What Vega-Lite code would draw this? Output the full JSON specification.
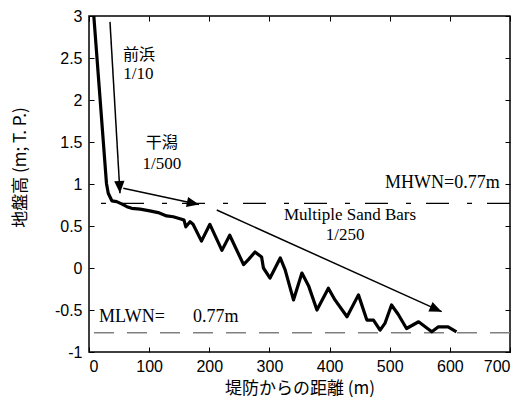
{
  "$schema": "https://vega.github.io/schema/vega-lite/v6.json",
  "width": 421,
  "height": 336,
  "autosize": {"type": "none"},
  "padding": {"left": 89, "top": 16, "right": 22, "bottom": 51},
  "background": "white",
  "config": {
    "view": {"stroke": "black", "strokeWidth": 1.5},
    "axis": {
      "domain": false,
      "grid": false,
      "ticks": true,
      "tickColor": "black",
      "tickSize": -5,
      "tickWidth": 1,
      "labelFont": "Liberation Sans",
      "labelFontSize": 16,
      "labelColor": "black",
      "titleFont": "Noto Sans CJK JP",
      "titleFontSize": 17,
      "titleFontWeight": "normal",
      "titleColor": "black"
    }
  },
  "datasets": {
    "profile": [
      {"x": 8, "z": 3.0}, {"x": 29, "z": 1.01}, {"x": 32, "z": 0.89}, {"x": 38, "z": 0.8},
      {"x": 46, "z": 0.79}, {"x": 55, "z": 0.76}, {"x": 63, "z": 0.73}, {"x": 71, "z": 0.71},
      {"x": 85, "z": 0.7}, {"x": 101, "z": 0.68}, {"x": 115, "z": 0.66}, {"x": 129, "z": 0.62},
      {"x": 140, "z": 0.61}, {"x": 154, "z": 0.58}, {"x": 158, "z": 0.57}, {"x": 161, "z": 0.49},
      {"x": 168, "z": 0.55}, {"x": 173, "z": 0.52}, {"x": 187, "z": 0.32}, {"x": 201, "z": 0.52},
      {"x": 221, "z": 0.21}, {"x": 234, "z": 0.39}, {"x": 257, "z": 0.04}, {"x": 265, "z": 0.1},
      {"x": 276, "z": 0.19}, {"x": 287, "z": 0.13}, {"x": 290, "z": 0.0}, {"x": 301, "z": -0.12},
      {"x": 318, "z": 0.12}, {"x": 326, "z": -0.02}, {"x": 340, "z": -0.38}, {"x": 354, "z": -0.06},
      {"x": 365, "z": -0.21}, {"x": 379, "z": -0.5}, {"x": 398, "z": -0.24}, {"x": 409, "z": -0.38},
      {"x": 429, "z": -0.58}, {"x": 448, "z": -0.32}, {"x": 462, "z": -0.62}, {"x": 473, "z": -0.62},
      {"x": 484, "z": -0.74}, {"x": 492, "z": -0.66}, {"x": 503, "z": -0.44}, {"x": 514, "z": -0.55},
      {"x": 528, "z": -0.72}, {"x": 548, "z": -0.64}, {"x": 570, "z": -0.76}, {"x": 581, "z": -0.7},
      {"x": 597, "z": -0.7}, {"x": 611, "z": -0.76}
    ],
    "levels": [
      {"name": "MHWN", "z": 0.77},
      {"name": "MLWN", "z": -0.77}
    ],
    "arrows": [
      {"id": "a1", "x1": 34.9, "y1": 2.93, "x2": 51.5, "y2": 0.89},
      {"id": "a2", "x1": 57.0, "y1": 0.95, "x2": 182.9, "y2": 0.756},
      {"id": "a3", "x1": 212.4, "y1": 0.69, "x2": 586.4, "y2": -0.52}
    ],
    "labels": [
      {"kind": "jp", "text": "前浜", "x": 83, "y": 2.54, "align": "c"},
      {"kind": "en", "text": "1/10", "x": 82, "y": 2.31, "align": "c"},
      {"kind": "jp", "text": "干潟", "x": 121, "y": 1.49, "align": "c"},
      {"kind": "en", "text": "1/500", "x": 121, "y": 1.24, "align": "c"},
      {"kind": "en", "text": "Multiple Sand Bars", "x": 434, "y": 0.63, "align": "c"},
      {"kind": "en", "text": "1/250", "x": 426, "y": 0.39, "align": "c"},
      {"kind": "en", "text": "MHWN=0.77m", "x": 683, "y": 1.01, "align": "r"},
      {"kind": "en", "text": "MLWN=", "x": 16.6, "y": -0.58, "align": "l"},
      {"kind": "en", "text": "0.77m", "x": 173, "y": -0.58, "align": "l"}
    ]
  },
  "resolve": {"axis": {"x": "independent", "y": "independent"}},
  "layer": [
    {
      "data": {"name": "levels"},
      "transform": [{"filter": "datum.name == 'MHWN'"}],
      "mark": {"type": "rule", "color": "black", "strokeWidth": 1.2, "strokeDash": [23, 15, 5, 18]},
      "encoding": {
        "y": {"field": "z", "type": "quantitative", "scale": {"domain": [-1, 3], "nice": false, "zero": false}, "axis": null}
      }
    },
    {
      "data": {"name": "levels"},
      "transform": [{"filter": "datum.name == 'MLWN'"}],
      "mark": {"type": "rule", "color": "#808080", "strokeWidth": 1.6, "strokeDash": [20, 13]},
      "encoding": {
        "y": {"field": "z", "type": "quantitative", "scale": {"domain": [-1, 3], "nice": false, "zero": false}, "axis": null}
      }
    },
    {
      "data": {"name": "profile"},
      "mark": {"type": "line", "color": "black", "strokeWidth": 3.2, "strokeJoin": "round"},
      "encoding": {
        "x": {
          "field": "x", "type": "quantitative",
          "scale": {"domain": [0, 700], "nice": false, "zero": false},
          "axis": {
            "orient": "bottom",
            "values": [0, 100, 200, 300, 400, 500, 600, 700],
            "labelPadding": 11,
            "title": "堤防からの距離 (m)",
            "titleBaseline": "middle",
            "titleY": 36
          }
        },
        "y": {
          "field": "z", "type": "quantitative",
          "scale": {"domain": [-1, 3], "nice": false, "zero": false},
          "axis": {
            "orient": "left",
            "values": [-1, -0.5, 0, 0.5, 1, 1.5, 2, 2.5, 3],
            "labelExpr": "'' + datum.value",
            "labelPadding": 12,
            "title": "地盤高 (m; T. P.)",
            "titleBaseline": "middle",
            "titleX": -69,
            "titleY": 151
          }
        }
      }
    },
    {
      "data": {"name": "arrows"},
      "mark": {"type": "rule", "color": "black", "strokeWidth": 1.5},
      "encoding": {
        "x": {
          "field": "x1", "type": "quantitative",
          "scale": {"domain": [0, 700], "nice": false, "zero": false},
          "axis": {"orient": "top", "values": [0, 100, 200, 300, 400, 500, 600, 700], "labels": false, "title": null}
        },
        "y": {
          "field": "y1", "type": "quantitative",
          "scale": {"domain": [-1, 3], "nice": false, "zero": false},
          "axis": {"orient": "right", "values": [-1, -0.5, 0, 0.5, 1, 1.5, 2, 2.5, 3], "labels": false, "title": null}
        },
        "x2": {"field": "x2"},
        "y2": {"field": "y2"}
      }
    },
    {
      "data": {"name": "arrows"},
      "transform": [{"filter": "datum.id == 'a1'"}],
      "mark": {"type": "point", "shape": "M0,0L-0.42,1L0.42,1Z", "filled": true, "color": "black", "opacity": 1, "size": 600, "angle": 177},
      "encoding": {
        "x": {"field": "x2", "type": "quantitative", "scale": {"domain": [0, 700], "nice": false, "zero": false}, "axis": null},
        "y": {"field": "y2", "type": "quantitative", "scale": {"domain": [-1, 3], "nice": false, "zero": false}, "axis": null}
      }
    },
    {
      "data": {"name": "arrows"},
      "transform": [{"filter": "datum.id == 'a2'"}],
      "mark": {"type": "point", "shape": "M0,0L-0.42,1L0.42,1Z", "filled": true, "color": "black", "opacity": 1, "size": 600, "angle": 102},
      "encoding": {
        "x": {"field": "x2", "type": "quantitative", "scale": {"domain": [0, 700], "nice": false, "zero": false}, "axis": null},
        "y": {"field": "y2", "type": "quantitative", "scale": {"domain": [-1, 3], "nice": false, "zero": false}, "axis": null}
      }
    },
    {
      "data": {"name": "arrows"},
      "transform": [{"filter": "datum.id == 'a3'"}],
      "mark": {"type": "point", "shape": "M0,0L-0.42,1L0.42,1Z", "filled": true, "color": "black", "opacity": 1, "size": 600, "angle": 114},
      "encoding": {
        "x": {"field": "x2", "type": "quantitative", "scale": {"domain": [0, 700], "nice": false, "zero": false}, "axis": null},
        "y": {"field": "y2", "type": "quantitative", "scale": {"domain": [-1, 3], "nice": false, "zero": false}, "axis": null}
      }
    },
    {
      "data": {"name": "labels"},
      "transform": [{"filter": "datum.kind == 'jp'"}],
      "mark": {"type": "text", "font": "Noto Sans CJK JP", "fontSize": 16, "color": "black", "align": "center", "baseline": "middle"},
      "encoding": {
        "x": {"field": "x", "type": "quantitative", "scale": {"domain": [0, 700], "nice": false, "zero": false}, "axis": null},
        "y": {"field": "y", "type": "quantitative", "scale": {"domain": [-1, 3], "nice": false, "zero": false}, "axis": null},
        "text": {"field": "text"}
      }
    },
    {
      "data": {"name": "labels"},
      "transform": [{"filter": "datum.kind == 'en' && datum.align == 'c'"}],
      "mark": {"type": "text", "font": "Liberation Serif", "fontSize": 17, "color": "black", "align": "center", "baseline": "middle"},
      "encoding": {
        "x": {"field": "x", "type": "quantitative", "scale": {"domain": [0, 700], "nice": false, "zero": false}, "axis": null},
        "y": {"field": "y", "type": "quantitative", "scale": {"domain": [-1, 3], "nice": false, "zero": false}, "axis": null},
        "text": {"field": "text"}
      }
    },
    {
      "data": {"name": "labels"},
      "transform": [{"filter": "datum.kind == 'en' && datum.align == 'r'"}],
      "mark": {"type": "text", "font": "Liberation Serif", "fontSize": 18, "color": "black", "align": "right", "baseline": "middle"},
      "encoding": {
        "x": {"field": "x", "type": "quantitative", "scale": {"domain": [0, 700], "nice": false, "zero": false}, "axis": null},
        "y": {"field": "y", "type": "quantitative", "scale": {"domain": [-1, 3], "nice": false, "zero": false}, "axis": null},
        "text": {"field": "text"}
      }
    },
    {
      "data": {"name": "labels"},
      "transform": [{"filter": "datum.kind == 'en' && datum.align == 'l'"}],
      "mark": {"type": "text", "font": "Liberation Serif", "fontSize": 18, "color": "black", "align": "left", "baseline": "middle"},
      "encoding": {
        "x": {"field": "x", "type": "quantitative", "scale": {"domain": [0, 700], "nice": false, "zero": false}, "axis": null},
        "y": {"field": "y", "type": "quantitative", "scale": {"domain": [-1, 3], "nice": false, "zero": false}, "axis": null},
        "text": {"field": "text"}
      }
    }
  ]
}
